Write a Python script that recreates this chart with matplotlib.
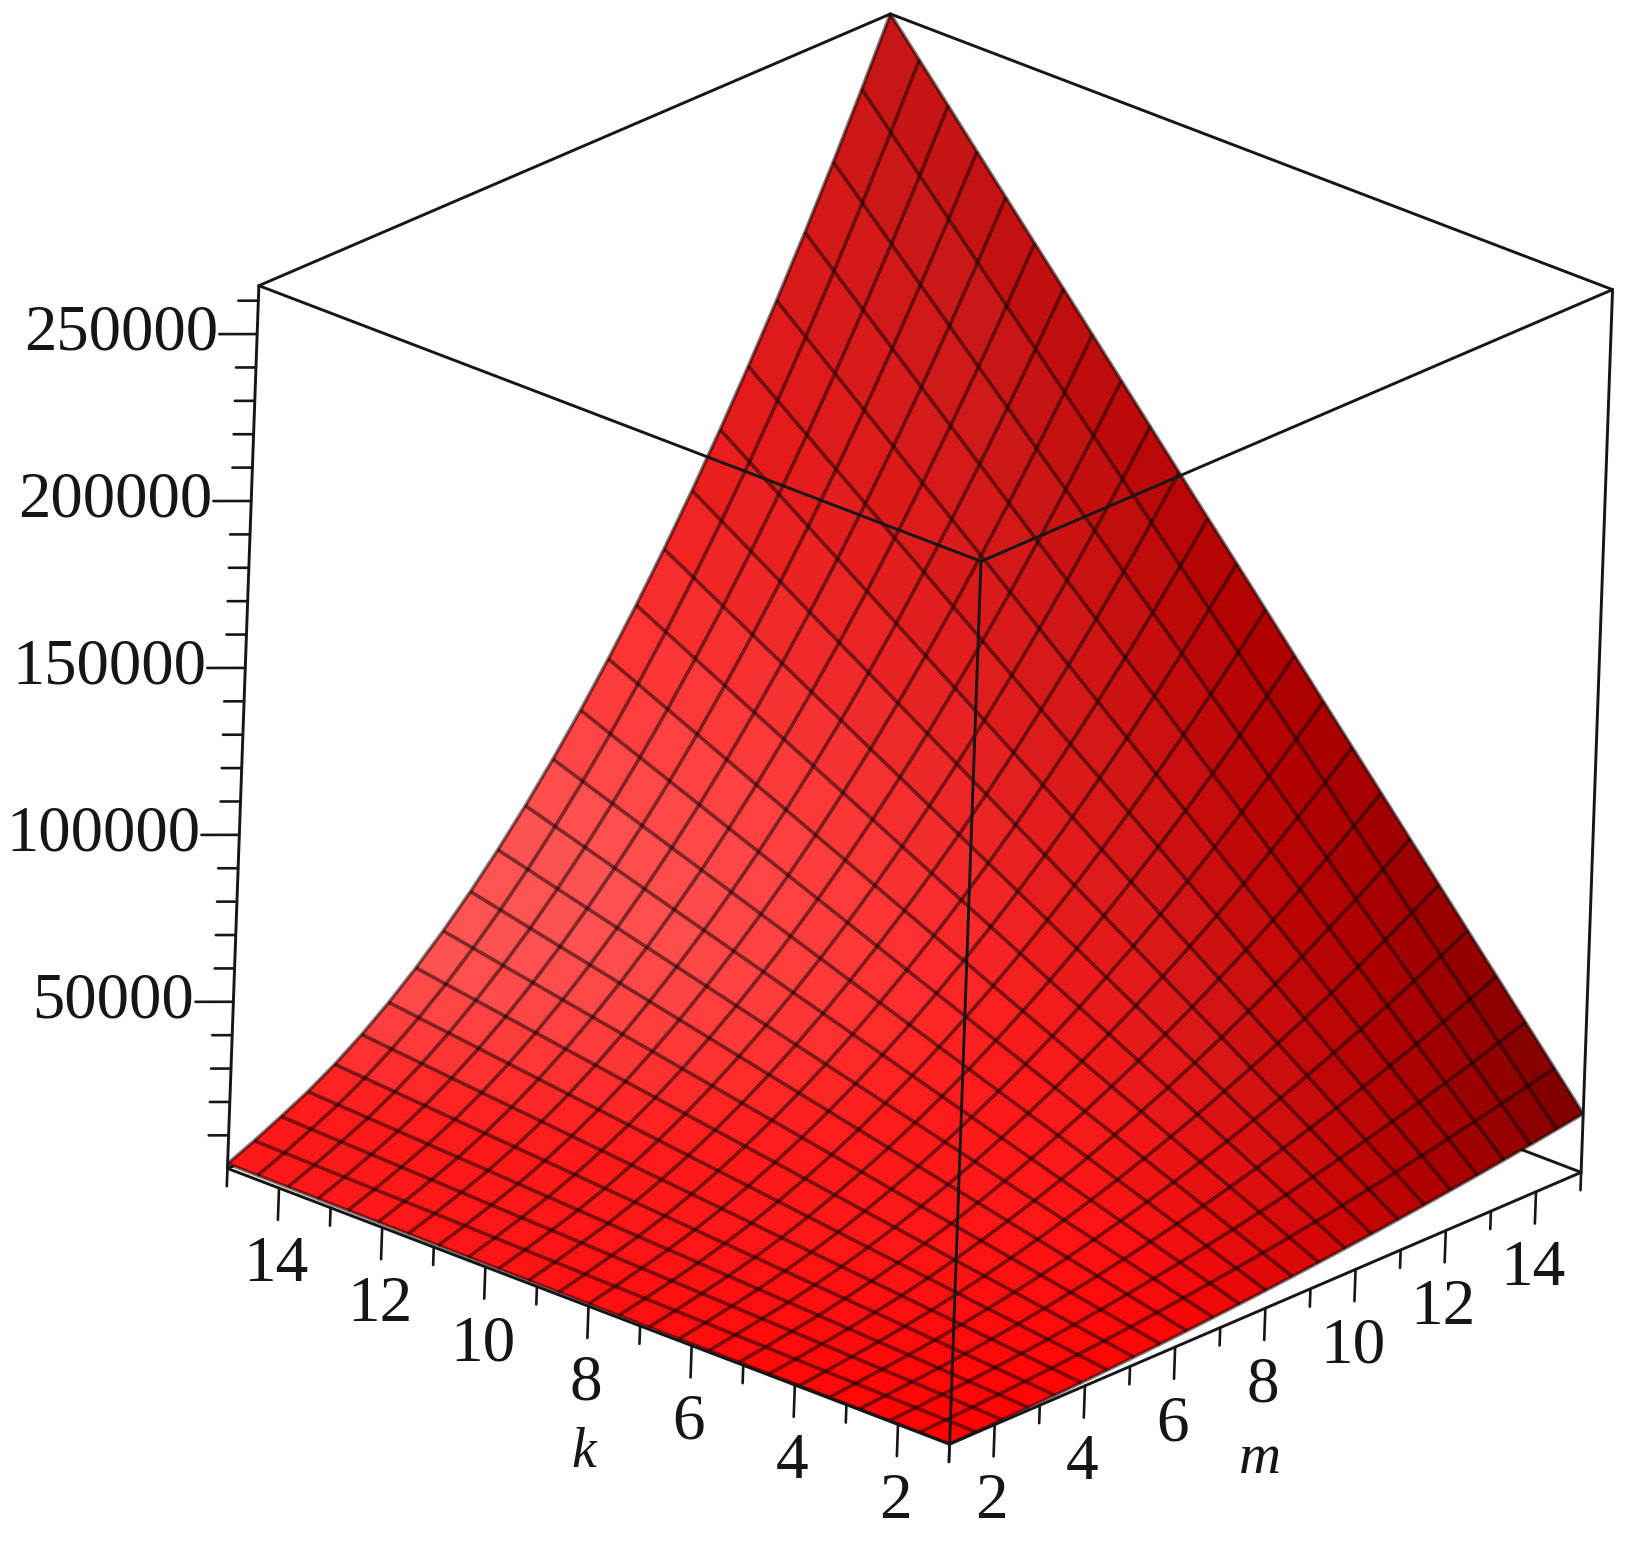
import numpy as np
import matplotlib
matplotlib.use("Agg")
import matplotlib.pyplot as plt
from mpl_toolkits.mplot3d import proj3d

# Grid of the surface (25 mesh lines on each side)
k_grid = [1, 1.5833, 2.1667, 2.75, 3.3333, 3.9167, 4.5, 5.0833, 5.6667, 6.25, 6.8333, 7.4167, 8,
          8.5833, 9.1667, 9.75, 10.3333, 10.9167, 11.5, 12.0833, 12.6667, 13.25, 13.8333, 14.4167, 15]
m_grid = [1, 1.5833, 2.1667, 2.75, 3.3333, 3.9167, 4.5, 5.0833, 5.6667, 6.25, 6.8333, 7.4167, 8,
          8.5833, 9.1667, 9.75, 10.3333, 10.9167, 11.5, 12.0833, 12.6667, 13.25, 13.8333, 14.4167, 15]
# Height read along the two silhouette edges of the surface
z_along_k_at_m15 = [17633, 27920, 38200, 48490, 58780, 69060, 79350, 89640, 99920, 110200, 120500, 130800,
                    141100, 151300, 161600, 171900, 182200, 192500, 202800, 213000, 223300, 233600,
                    243900, 254200, 264500]
z_along_m_at_k15 = [1500, 5000, 8858, 12936, 17733, 23250, 29484, 36438, 44109, 52500, 61610, 71437, 81984,
                    93249, 105233, 117936, 131358, 145497, 160356, 175936, 192228, 209244, 226977,
                    245430, 264500]
z_major = [50000, 100000, 150000, 200000, 250000]
z_minor = [10000, 20000, 30000, 40000, 60000, 70000, 80000, 90000, 110000, 120000, 130000, 140000,
           160000, 170000, 180000, 190000, 210000, 220000, 230000, 240000, 260000]
xy_major = [2, 4, 6, 8, 10, 12, 14]
xy_minor = [1, 3, 5, 7, 9, 11, 13, 15]
z_low, z_high = 100, 264500

W_PX, H_PX = 1633, 1545
plt.rcParams['font.family'] = ['Liberation Serif', 'DejaVu Serif']

k = np.array(k_grid)
m = np.array(m_grid)
Z = np.outer(z_along_k_at_m15, z_along_m_at_k15) / z_high
M, K = np.meshgrid(m, k)

# Lighting
w = (Z - z_low) / (z_high - z_low)
dk = np.gradient(w, (k - 1) / 14, axis=0)
dm = np.gradient(w, (m - 1) / 14, axis=1)
n = np.stack([-dm, -dk, np.ones_like(w)], axis=-1)
n /= np.linalg.norm(n, axis=-1, keepdims=True)
red = np.clip(0.32 + n @ np.array([-0.48, 0.62, 0.75]), 0, 1)
hn = n @ np.array([-0.64, -0.08, 0.764])
gb = (0.10 * np.clip((hn - 0.76) / 0.15, 0, 1) * np.clip((0.58 + n[..., 1]) / 0.15, 0, 1)
      + 0.23 * np.clip((hn - 0.93) / 0.065, 0, 1) ** 2)
rgba = np.stack([red, gb, gb, np.ones_like(gb)], axis=-1)
cells = (rgba[:-1, :-1] + rgba[1:, :-1] + rgba[:-1, 1:] + rgba[1:, 1:]) / 4

fig = plt.figure(figsize=(W_PX / 100, H_PX / 100), dpi=100)
ax = fig.add_axes([-0.2, -0.2, 1.4, 1.4], projection='3d', proj_type='ortho', computed_zorder=False)
ax.set_xlim(1, 15)
ax.set_ylim(1, 15)
ax.set_zlim(z_low, z_high)
ax.view_init(elev=23.7, azim=220.35, roll=-2.04)
ax.set_axis_off()
ax.patch.set_alpha(0)

LW = 2.1
TICK = 1.9
INK = '#161616'
def line(xs, ys, zs, lw=LW, z=5):
    ax.plot(xs, ys, zs, color=INK, lw=lw, zorder=z, clip_on=False, solid_capstyle='round')

# Box edges behind the surface
line([15, 15], [1, 15], [z_low, z_low], z=1)
line([1, 15], [15, 15], [z_low, z_low], z=1)
line([15, 15], [15, 15], [z_low, z_high], z=1)

surf = ax.plot_surface(M, K, Z, facecolors=cells, rstride=1, cstride=1, shade=False,
                       linewidth=0.3, antialiased=True, zorder=2)
surf.set_clip_on(False)
wire = ax.plot_wireframe(M, K, Z, rstride=1, cstride=1, color=(0.05, 0, 0, 0.52), linewidth=2.6, zorder=3)
wire.set_clip_on(False)

# Box edges in front
line([1, 1], [1, 1], [z_low, z_high])
line([1, 1], [15, 15], [z_low, z_high])
line([15, 15], [1, 1], [z_low, z_high])
line([1, 15], [1, 1], [z_low, z_low])
line([1, 1], [1, 15], [z_low, z_low])
line([1, 15], [1, 1], [z_high, z_high])
line([1, 1], [1, 15], [z_high, z_high])
line([1, 15], [15, 15], [z_high, z_high])
line([15, 15], [1, 15], [z_high, z_high])

# Ticks, and labels anchored on the projected data positions
span = z_high - z_low
px_z = span / 888.0
labels = []
for v in xy_major + xy_minor:
    d = (32 if v in xy_major else 18) * px_z
    line([1, 1], [v, v], [z_low, z_low - d], lw=TICK)   # k axis
    line([v, v], [1, 1], [z_low, z_low - d], lw=TICK)   # m axis
for v in xy_major:
    labels.append((1, v, z_low - 78 * px_z, str(v), dict(fontsize=47, ha='center', va='center')))
    labels.append((v, 1, z_low - 78 * px_z, str(v), dict(fontsize=47, ha='center', va='center')))
for v in z_major + z_minor:
    f = 1.0 if v in z_major else 20 / 38
    line([1, 1 - 0.396 * f], [15, 15 + 0.388 * f], [v, v], lw=TICK)
for v in z_major:
    labels.append((1 - 0.41, 15 + 0.40, v, str(v), dict(fontsize=46.5, ha='right', va='center')))
labels.append((1, 8, z_low - 148 * px_z, 'k', dict(fontsize=40, style='italic', ha='center', va='center')))
labels.append((8.0, 1, z_low - 152 * px_z, 'm', dict(fontsize=42, style='italic', ha='center', va='center')))

# Fit the projected box on the canvas: front-bottom and back-top corners
def project(x, y, z):
    x2, y2, _ = proj3d.proj_transform(x, y, z, ax.get_proj())
    return ax.transData.transform((x2, y2))

target_front = np.array([951.0, H_PX - 1444.0])
target_back = np.array([889.0, H_PX - 14.0])
aspect = (1, 1, 1.005)
ax.set_box_aspect(aspect, zoom=1.0)
fig.canvas.draw()
d0 = np.linalg.norm(project(1, 1, z_low) - project(15, 15, z_high))
ax.set_box_aspect(aspect, zoom=np.linalg.norm(target_front - target_back) / d0)
fig.canvas.draw()
mid_now = (project(1, 1, z_low) + project(15, 15, z_high)) / 2
shift = (target_front + target_back) / 2 - mid_now
ax.set_position([-0.2 + shift[0] / W_PX, -0.2 + shift[1] / H_PX, 1.4, 1.4])
fig.canvas.draw()

for x, y, z, s, kw in labels:
    px, py = project(x, y, z)
    fig.text(px / W_PX, py / H_PX, s, color=INK, **kw)

fig.savefig('out.png', dpi=100, facecolor='white')
